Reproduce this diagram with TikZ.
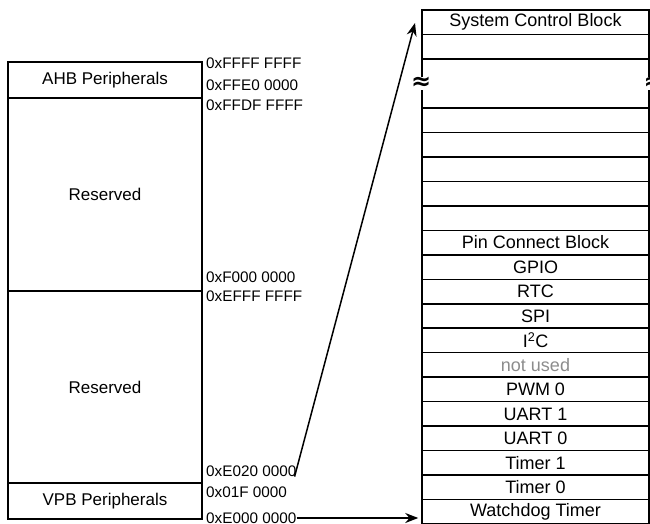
\documentclass[tikz,border=0pt]{standalone}
\usepackage{fontspec}
\setmainfont{Liberation Sans}
\newfontfamily\brkfont{DejaVu Sans}
\usetikzlibrary{arrows.meta}
\definecolor{notused}{gray}{0.55}
\tikzset{
  mapbox/.style={draw, line width=1.5pt, minimum width=194pt, inner sep=0pt, font=\fontsize{17}{19}\selectfont},
  regrow/.style={draw, line width=1.5pt, minimum width=227pt, minimum height=24.48pt, inner sep=0pt, font=\fontsize{18}{20}\selectfont},
  addr/.style={anchor=west, inner sep=0pt, font=\fontsize{15.3}{17}\selectfont},
  brk/.style={fill=white, inner sep=0.5pt, font=\brkfont\bfseries\fontsize{24}{24}\selectfont},
  maparrow/.style={-{Stealth[length=13pt,width=10pt]}, line width=1.5pt}
}
\begin{document}
\begin{tikzpicture}[x=1pt,y=-1pt]
  \useasboundingbox (0,0) rectangle (650,524);
  % memory map
  \node[mapbox, minimum height=36pt] (ahb) at (105,80) {AHB Peripherals};
  \node[mapbox, minimum height=193pt] (resA) at (105,194.5) {Reserved};
  \node[mapbox, minimum height=192pt] (resB) at (105,387) {Reserved};
  \node[mapbox, minimum height=36pt] (vpb) at (105,501) {VPB Peripherals};
  \node[addr] (aFFFF) at (206,63) {0xFFFF FFFF};
  \node[addr] (aFFE0) at (206,85) {0xFFE0 0000};
  \node[addr] (aFFDF) at (206,105) {0xFFDF FFFF};
  \node[addr] (aF000) at (206,277) {0xF000 0000};
  \node[addr] (aEFFF) at (206,296) {0xEFFF FFFF};
  \node[addr] (aE020) at (206,471) {0xE020 0000};
  \node[addr] (a01F) at (206,492) {0x01F 0000};
  \node[addr] (aE000) at (206,518) {0xE000 0000};
  % VPB registers
  \node[regrow] (row0) at (535.5,22.24) {System Control Block};
  \node[regrow] (row1) at (535.5,46.72) {};
  \node[regrow, minimum height=48.96pt] (gap) at (535.5,83.44) {};
  \node[brk] (brkL) at (gap.west) {≈};
  \node[brk] (brkR) at ([xshift=4pt]gap.east) {≈};
  \foreach \txt [count=\i from 4] in {{},{},{},{},{},Pin Connect Block,GPIO,RTC,SPI,I\textsuperscript{2}C,{\color{notused}not used},PWM 0,UART 1,UART 0,Timer 1,Timer 0,Watchdog Timer}
    \node[regrow] (row\i) at (535.5,{10+(\i+0.5)*24.48}) {\txt};
  \coordinate (tipA) at (415,23);
  \draw[maparrow] ([xshift=-2pt]aE020.south east) -- (tipA);
  \draw[maparrow, shorten >=3pt] (aE000.east) -- (aE000.east -| row20.west);
\end{tikzpicture}
\end{document}
